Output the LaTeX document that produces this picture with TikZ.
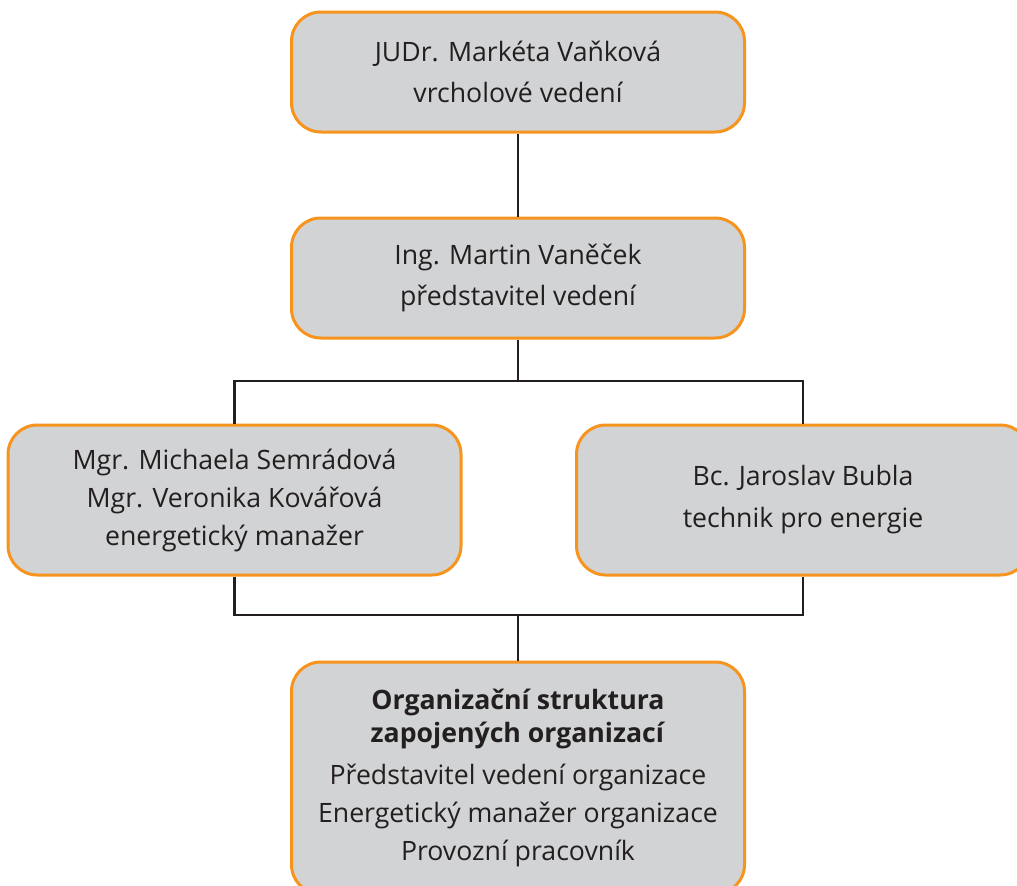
\documentclass[tikz,border=0pt]{standalone}
\usepackage{fontspec}
\setmainfont{Open Sans}
\usetikzlibrary{positioning}
\definecolor{boxorange}{HTML}{F7941D}
\definecolor{boxgray}{HTML}{D1D3D4}
\definecolor{inkdark}{HTML}{231F20}
\tikzset{every picture/.style={line width=1.5pt}}

\begin{document}
\begin{tikzpicture}[x=0.75pt,y=-0.75pt,
    orgbox/.style={draw=boxorange, fill=boxgray, line width=2.25pt, rounded corners=22pt,
      minimum width=339.75pt, minimum height=90pt, align=center, text=inkdark,
      font=\fontsize{20}{30.75}\selectfont},
    link/.style={draw=inkdark, line width=1.6pt}]
    \useasboundingbox (0,0) rectangle (1017,885);

    % Management
    \node[orgbox] (top) at (518,72) {JUDr. Markéta Vaňková\\vrcholové vedení};
    \node[orgbox] (rep) at (518,278) {Ing. Martin Vaněček\\představitel vedení};

    % Energy team
    \node[orgbox, minimum height=112.5pt, font=\fontsize{20}{28.5}\selectfont] (mgr) at (234.5,500)
        {Mgr. Michaela Semrádová\\Mgr. Veronika Kovářová\\energetický manažer};
    \node[orgbox, minimum height=112.5pt, font=\fontsize{20}{31.5}\selectfont] (tech) at (803,500)
        {Bc. Jaroslav Bubla\\technik pro energie};

    % Involved organisations
    \node[orgbox, minimum height=174pt, font=\fontsize{20}{28.5}\selectfont] (orgs) at (518,778)
        {\textbf{Organizační struktura}\\[-3.75pt]\textbf{zapojených organizací}\\[3pt]
         Představitel vedení organizace\\Energetický manažer organizace\\Provozní pracovník};

    % Connectors
    \coordinate (split) at (518,381);
    \coordinate (join) at (518,615);
    \draw[link] (top.south) -- (rep.north);
    \draw[link] (rep.south) -- (split);
    \draw[link] (mgr.north) |- (split) -| (tech.north);
    \draw[link] (mgr.south) |- (join) -| (tech.south);
    \draw[link] (join) -- (orgs.north);
\end{tikzpicture}
\end{document}
